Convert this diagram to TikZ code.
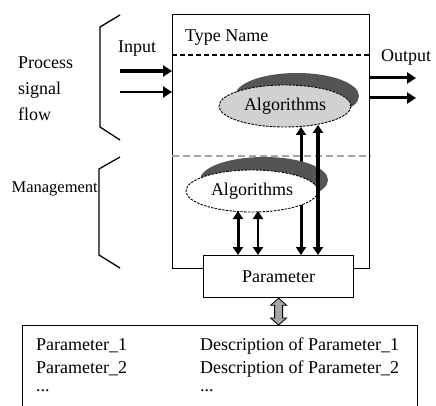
\documentclass[tikz,border=0pt]{standalone}
\usepackage{fontspec}
\setmainfont{Liberation Serif}
\usetikzlibrary{shapes.geometric,arrows.meta,calc}
\definecolor{shadowc}{gray}{0.33}
\definecolor{algfill}{gray}{0.82}
\definecolor{dashgray}{gray}{0.65}
\definecolor{arrgray}{gray}{0.65}
\begin{document}
\begin{tikzpicture}[x=1pt,y=-1pt,
  every node/.style={font=\fontsize{18}{20}\selectfont, inner sep=0pt},
  lbl/.style={anchor=base west},
  boxline/.style={line width=1.2pt},
  alg/.style={ellipse, draw, line width=0.9pt, dash pattern=on 2.5pt off 1.2pt, minimum width=132pt, minimum height=42pt},
  shadowshape/.style={ellipse, fill=shadowc, minimum width=#1, minimum height=46pt},
  arr/.style={line width=#1, -{Triangle[length=9pt,width=11pt]}},
  dbl/.style={line width=#1, {Triangle[length=8pt,width=10pt]}-{Triangle[length=8pt,width=10pt]}},
  brace/.style={line width=1.3pt},
]
\clip (0,0) rectangle (436,406);
% main block
\node[draw, boxline, minimum width=197pt, minimum height=254pt, anchor=north west] (block) at (172,14) {};
% dashed separators
\coordinate (d1) at (172,55);
\coordinate (d2) at (172,156);
\draw[line width=1.3pt, dash pattern=on 5pt off 3pt] (d1) -- (d1 -| block.east);
\draw[dashgray, line width=2pt, dash pattern=on 7pt off 4pt] (d2) -- (d2 -| block.east);
% labels
\node[lbl] (tn) at (185,42) {Type Name};
\node[lbl] (in) at (118,53) {Input};
\node[lbl] (out) at (381,62) {Output};
\node[lbl] (pr) at (18,69) {Process};
\node[lbl] (sg) at (18,95) {signal};
\node[lbl] (fl) at (18,121) {flow};
\node[anchor=base east, font=\fontsize{16.5}{18}\selectfont] (mg) at (98,193) {Management};
% braces
\draw[brace] (120,15) -- (100,27) -- (100,127) -- (120,140);
\draw[brace] (120,157) -- (99,169) -- (99,255) -- (120,268);
% parameter box
\node[draw, boxline, fill=white, minimum width=150pt, minimum height=42pt, anchor=north west] (param) at (203,255) {Parameter};
% vertical arrows (behind lower ellipse)
\coordinate (u1) at (301,127);
\coordinate (u2) at (318,125);
\draw[dbl=3pt] (u1) -- (u1 |- param.north);
% lower ellipse
\node[shadowshape=128pt] (sh2) at (264,180) {};
\node[alg, fill=white] (alg2) at (252,191) {Algorithms};
\draw[dbl=3.2pt] (u2) -- (u2 |- param.north);
% upper ellipse
\node[shadowshape=124pt] (sh1) at (297,96) {};
\node[alg, fill=algfill] (alg1) at (285,106) {Algorithms};
% lower arrows
\coordinate (l1) at (238,211);
\coordinate (l2) at (258,211);
\draw[dbl=3pt] (l1) -- (l1 |- param.north);
\draw[dbl=2.2pt] (l2) -- (l2 |- param.north);
% input / output arrows
\coordinate (i1) at (120,71);
\coordinate (i2) at (120,92);
\draw[arr=3.5pt] (i1) -- (i1 -| block.west);
\draw[arr=2.8pt] (i2) -- (i2 -| block.west);
\coordinate (o1) at (416,78);
\coordinate (o2) at (416,98);
\draw[arr=3pt] (o1 -| block.east) -- (o1);
\draw[arr=3pt] (o2 -| block.east) -- (o2);
% parameter list
\node[draw, boxline, minimum width=395pt, minimum height=100pt, anchor=north west] (list) at (22,325) {};
\node[lbl] (pa1) at (36,350) {Parameter\_1};
\node[lbl] (pa2) at (36,373) {Parameter\_2};
\node[lbl] (pa3) at (36,391) {...};
\node[lbl] (de1) at (200,350) {Description of Parameter\_1};
\node[lbl] (de2) at (200,373) {Description of Parameter\_2};
\node[lbl] (de3) at (200,391) {...};
% gray double arrow
\path (param.south) coordinate (ga) (param.south |- list.north) coordinate (gb);
\filldraw[fill=arrgray, line width=0.8pt] (ga) -- ($(ga)+(-8,7)$) -- ($(ga)+(-4,7)$) -- ($(gb)+(-4,-7)$) -- ($(gb)+(-8,-7)$) -- (gb) -- ($(gb)+(8,-7)$) -- ($(gb)+(4,-7)$) -- ($(ga)+(4,7)$) -- ($(ga)+(8,7)$) -- cycle;
\end{tikzpicture}
\end{document}
